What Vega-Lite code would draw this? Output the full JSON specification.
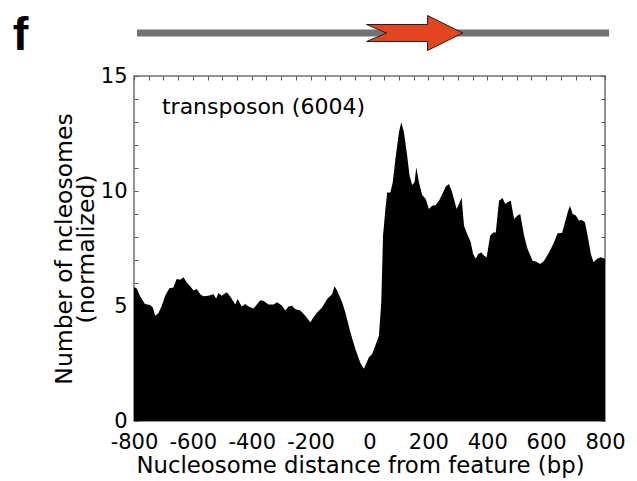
{
  "$schema": "https://vega.github.io/schema/vega-lite/v6.json",
  "padding": {"left": 12, "top": 12, "right": 5, "bottom": 5},
  "background": "white",
  "spacing": 23,
  "bounds": "flush",
  "resolve": {"scale": {"x": "independent", "y": "independent"}},
  "config": {
    "font": "DejaVu Sans",
    "axis": {"labelColor": "black", "titleColor": "black", "titleFontWeight": "normal", "tickColor": "#555", "labelFont": "DejaVu Sans", "titleFont": "DejaVu Sans", "grid": false, "domain": false}
  },
  "vconcat": [
    {
      "width": 471,
      "height": 40,
      "view": {"stroke": null},
      "layer": [
        {
          "data": {"values": [{"start": -790, "end": 814}]},
          "mark": {"type": "rule", "color": "#737373", "strokeWidth": 7},
          "encoding": {
            "x": {"field": "start", "type": "quantitative", "scale": {"domain": [-800, 800], "nice": false, "zero": false}, "axis": null},
            "x2": {"field": "end"},
            "y": {"datum": 0, "type": "quantitative", "scale": {"domain": [-1, 1], "nice": false, "zero": false}, "axis": null}
          }
        },
        {
          "data": {"values": [
            {"i": 1, "bp": -10, "h": 0.425},
            {"i": 2, "bp": 197, "h": 0.425},
            {"i": 3, "bp": 197, "h": 0.875},
            {"i": 4, "bp": 317, "h": 0},
            {"i": 5, "bp": 197, "h": -0.875},
            {"i": 6, "bp": 197, "h": -0.425},
            {"i": 7, "bp": -10, "h": -0.425},
            {"i": 8, "bp": 58, "h": 0},
            {"i": 9, "bp": -10, "h": 0.425}
          ]},
          "mark": {"type": "line", "fill": "#e2451f", "stroke": "#222", "strokeWidth": 1, "interpolate": "linear"},
          "encoding": {
            "x": {"field": "bp", "type": "quantitative", "axis": null},
            "y": {"field": "h", "type": "quantitative", "axis": null},
            "order": {"field": "i", "type": "quantitative"}
          }
        },
        {
          "data": {"values": [{"label": "f"}]},
          "mark": {"type": "text", "font": "Liberation Sans", "fontSize": 47, "fontWeight": "bold", "align": "center", "baseline": "alphabetic", "color": "black"},
          "encoding": {
            "text": {"field": "label"},
            "x": {"datum": -1185, "type": "quantitative", "axis": null},
            "y": {"datum": -0.87, "type": "quantitative", "axis": null}
          }
        }
      ]
    },
    {
      "width": 471,
      "height": 345,
      "view": {"stroke": "#707070", "strokeWidth": 1.5},
      "data": {"values": [
        {"bp": -800, "n": 5.81}, {"bp": -791, "n": 5.77}, {"bp": -780, "n": 5.45}, {"bp": -763, "n": 5.09},
        {"bp": -745, "n": 5.04}, {"bp": -736, "n": 4.94}, {"bp": -728, "n": 4.58}, {"bp": -717, "n": 4.68},
        {"bp": -706, "n": 5.0}, {"bp": -694, "n": 5.45}, {"bp": -680, "n": 5.77}, {"bp": -666, "n": 5.8},
        {"bp": -655, "n": 6.17}, {"bp": -643, "n": 6.14}, {"bp": -632, "n": 6.25}, {"bp": -621, "n": 6.03},
        {"bp": -609, "n": 5.86}, {"bp": -598, "n": 5.67}, {"bp": -587, "n": 5.74}, {"bp": -575, "n": 5.51},
        {"bp": -564, "n": 5.42}, {"bp": -547, "n": 5.45}, {"bp": -530, "n": 5.51}, {"bp": -521, "n": 5.33},
        {"bp": -513, "n": 5.57}, {"bp": -502, "n": 5.45}, {"bp": -485, "n": 5.6}, {"bp": -473, "n": 5.41},
        {"bp": -456, "n": 5.07}, {"bp": -448, "n": 5.3}, {"bp": -434, "n": 4.98}, {"bp": -422, "n": 5.09},
        {"bp": -411, "n": 4.98}, {"bp": -394, "n": 4.89}, {"bp": -371, "n": 5.25}, {"bp": -360, "n": 5.22},
        {"bp": -343, "n": 5.07}, {"bp": -326, "n": 5.06}, {"bp": -314, "n": 5.16}, {"bp": -297, "n": 5.01},
        {"bp": -286, "n": 4.8}, {"bp": -275, "n": 4.98}, {"bp": -263, "n": 5.01}, {"bp": -252, "n": 4.86},
        {"bp": -235, "n": 4.8}, {"bp": -218, "n": 4.58}, {"bp": -201, "n": 4.29}, {"bp": -190, "n": 4.51},
        {"bp": -178, "n": 4.72}, {"bp": -161, "n": 4.94}, {"bp": -144, "n": 5.3}, {"bp": -127, "n": 5.51},
        {"bp": -119, "n": 5.86}, {"bp": -110, "n": 5.67}, {"bp": -93, "n": 5.16}, {"bp": -82, "n": 4.72},
        {"bp": -65, "n": 3.86}, {"bp": -48, "n": 3.13}, {"bp": -31, "n": 2.52}, {"bp": -19, "n": 2.27},
        {"bp": -2, "n": 2.77}, {"bp": 9, "n": 2.91}, {"bp": 20, "n": 3.28}, {"bp": 32, "n": 3.71},
        {"bp": 40, "n": 5.16}, {"bp": 46, "n": 8.06}, {"bp": 54, "n": 9.22}, {"bp": 60, "n": 9.94},
        {"bp": 71, "n": 9.94}, {"bp": 79, "n": 10.38}, {"bp": 88, "n": 11.39}, {"bp": 100, "n": 12.55},
        {"bp": 108, "n": 12.99}, {"bp": 117, "n": 12.55}, {"bp": 128, "n": 11.53}, {"bp": 136, "n": 10.67},
        {"bp": 145, "n": 10.26}, {"bp": 153, "n": 10.38}, {"bp": 159, "n": 11.03}, {"bp": 168, "n": 10.38},
        {"bp": 179, "n": 9.83}, {"bp": 191, "n": 9.65}, {"bp": 202, "n": 9.22}, {"bp": 213, "n": 9.36},
        {"bp": 225, "n": 9.39}, {"bp": 236, "n": 9.58}, {"bp": 247, "n": 9.86}, {"bp": 259, "n": 10.2},
        {"bp": 270, "n": 10.3}, {"bp": 281, "n": 9.94}, {"bp": 296, "n": 9.22}, {"bp": 304, "n": 9.43},
        {"bp": 313, "n": 9.72}, {"bp": 321, "n": 8.49}, {"bp": 332, "n": 8.13}, {"bp": 344, "n": 7.77},
        {"bp": 352, "n": 7.26}, {"bp": 361, "n": 7.05}, {"bp": 369, "n": 7.26}, {"bp": 380, "n": 7.33},
        {"bp": 389, "n": 7.19}, {"bp": 398, "n": 7.12}, {"bp": 410, "n": 8.06}, {"bp": 421, "n": 8.2},
        {"bp": 429, "n": 8.2}, {"bp": 440, "n": 9.58}, {"bp": 452, "n": 9.7}, {"bp": 461, "n": 9.43},
        {"bp": 469, "n": 9.51}, {"bp": 480, "n": 9.58}, {"bp": 491, "n": 8.78}, {"bp": 503, "n": 8.93},
        {"bp": 512, "n": 9.0}, {"bp": 525, "n": 8.06}, {"bp": 537, "n": 7.48}, {"bp": 554, "n": 6.97},
        {"bp": 565, "n": 6.93}, {"bp": 580, "n": 6.83}, {"bp": 593, "n": 6.97}, {"bp": 610, "n": 7.33},
        {"bp": 627, "n": 7.77}, {"bp": 639, "n": 8.16}, {"bp": 654, "n": 8.17}, {"bp": 661, "n": 8.49},
        {"bp": 673, "n": 9.07}, {"bp": 681, "n": 9.36}, {"bp": 690, "n": 9.0}, {"bp": 701, "n": 8.93},
        {"bp": 712, "n": 8.71}, {"bp": 720, "n": 8.75}, {"bp": 732, "n": 8.64}, {"bp": 743, "n": 7.91},
        {"bp": 752, "n": 7.26}, {"bp": 761, "n": 6.9}, {"bp": 773, "n": 7.05}, {"bp": 786, "n": 7.12},
        {"bp": 800, "n": 7.05}
      ]},
      "layer": [
        {
          "mark": {"type": "area", "color": "black", "interpolate": "linear"},
          "encoding": {
            "x": {"field": "bp", "type": "quantitative", "scale": {"domain": [-800, 800], "nice": false, "zero": false},
              "axis": {"orient": "bottom", "values": [-800, -600, -400, -200, 0, 200, 400, 600, 800], "labelExpr": "datum.value < 0 ? '-' + abs(datum.value) : '' + datum.value", "ticks": false, "labelFontSize": 21, "labelPadding": 10, "labelFlush": false, "labelOverlap": false, "title": "Nucleosome distance from feature (bp)", "titleFontSize": 22.8, "titlePadding": 2, "titleX": 226}},
            "y": {"field": "n", "type": "quantitative", "scale": {"domain": [0, 15], "nice": false},
              "axis": {"orient": "left", "values": [0, 1, 2, 3, 4, 5, 6, 7, 8, 9, 10, 11, 12, 13, 14, 15], "labelExpr": "datum.value % 5 === 0 ? datum.label : ''", "tickSize": -4, "labelPadding": 11, "labelFontSize": 21, "labelFlush": false, "labelOverlap": false, "title": ["Number of ncleosomes", "(normalized)"], "titleFontSize": 23.5, "titleLineHeight": 22, "titlePadding": 2}}
          }
        },
        {
          "mark": {"type": "area", "opacity": 0},
          "encoding": {
            "x": {"field": "bp", "type": "quantitative",
              "axis": {"orient": "top", "values": [-800, -750, -700, -650, -600, -550, -500, -450, -400, -350, -300, -250, -200, -150, -100, -50, 0, 50, 100, 150, 200, 250, 300, 350, 400, 450, 500, 550, 600, 650, 700, 750, 800], "labels": false, "tickSize": -4, "title": null}},
            "y": {"field": "n", "type": "quantitative",
              "axis": {"orient": "right", "values": [0, 1, 2, 3, 4, 5, 6, 7, 8, 9, 10, 11, 12, 13, 14, 15], "labels": false, "tickSize": -4, "title": null}}
          }
        },
        {
          "data": {"values": [{"label": "transposon (6004)"}]},
          "mark": {"type": "text", "fontSize": 22, "align": "left", "baseline": "alphabetic", "color": "black"},
          "encoding": {
            "text": {"field": "label"},
            "x": {"datum": -705, "type": "quantitative", "axis": null},
            "y": {"datum": 13.35, "type": "quantitative", "axis": null}
          }
        }
      ],
      "resolve": {"axis": {"x": "independent", "y": "independent"}}
    }
  ]
}
